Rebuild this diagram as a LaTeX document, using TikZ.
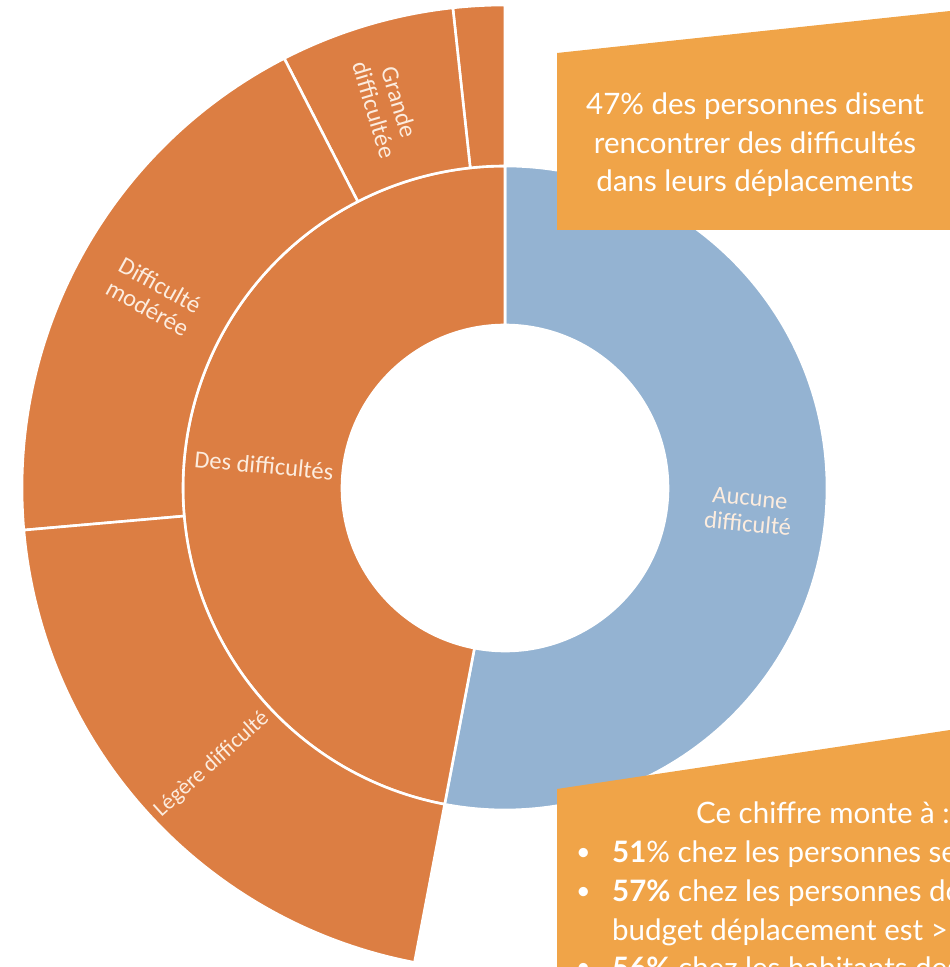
\documentclass[tikz,border=0pt]{standalone}
\usepackage{fontspec}
\setmainfont{Carlito}
\newfontfamily\boxfont{Lato}
\definecolor{chartorange}{RGB}{220,126,67}
\definecolor{chartblue}{RGB}{148,179,210}
\definecolor{boxorange}{RGB}{240,164,72}
\definecolor{labelcream}{RGB}{252,236,222}
\newcommand{\ringpart}[5]{%
  \fill[#1, draw=white, line width=2.6pt, line join=round]
    (#2:#4) arc[start angle=#2, end angle=#3, radius=#4]
    -- (#3:#5) arc[start angle=#3, end angle=#2, radius=#5] -- cycle;}
\tikzset{
  chartlabel/.style={text=labelcream, font=\fontsize{24.5}{26}\selectfont, align=center, inner sep=0pt},
  boxtext/.style={text=white, font=\boxfont\fontsize{29.5}{38}\selectfont, inner sep=0pt},
  bulletmark/.style={text=white, font=\boxfont\fontsize{25}{30}\selectfont, inner sep=0pt},
}
\begin{document}
\begin{tikzpicture}[x=1pt,y=1pt]
\useasboundingbox (0,0) rectangle (950,967);
\clip (0,0) rectangle (950,967);
\begin{scope}[shift={(505,479)}]
  % inner ring
  \ringpart{chartblue}{-100.8}{90}{163}{322}
  \ringpart{chartorange}{90}{259.2}{163}{322}
  % outer ring
  \ringpart{chartorange}{90}{96.2}{322}{483}
  \ringpart{chartorange}{96.2}{117.2}{322}{483}
  \ringpart{chartorange}{117.2}{185}{322}{483}
  \ringpart{chartorange}{185}{259.2}{322}{483}
  % labels
  \node[chartlabel, rotate=-5.4] (des) at (174.6:242) {Des difficultés};
  \node[chartlabel, rotate=-5.4] (aucune) at (-5.4:245) {Aucune\\difficulté};
  \node[chartlabel, rotate=-73.3] (grande) at (107.2:400) {Grande\\difficultée};
  \node[chartlabel, rotate=-28.9] (moderee) at (151.4:400) {Difficulté\\modérée};
  \node[chartlabel, rotate=42.1, font=\fontsize{22.5}{24}\selectfont] (legere) at (223.3:403) {Légère difficulté};
\end{scope}
% top box
\fill[boxorange] (557,914) -- (950,956) -- (950,737) -- (557,737) -- cycle;
\node[boxtext, anchor=base] (t1) at (755,852) {47\% des personnes disent};
\node[boxtext, anchor=base] (t2) at (755,813.5) {rencontrer des difficultés};
\node[boxtext, anchor=base] (t3) at (755,775) {dans leurs déplacements};
% bottom box
\fill[boxorange] (557,178) -- (950,237) -- (950,-5) -- (557,-5) -- cycle;
\node[boxtext, anchor=base west] (b0) at (696,143) {Ce chiffre monte à :};
\node[bulletmark, anchor=base west] (bl1) at (576,106) {•};
\node[boxtext, anchor=base west] (b1) at (612,104) {\textbf{51}\% chez les personnes seules};
\node[bulletmark, anchor=base west] (bl2) at (576,67) {•};
\node[boxtext, anchor=base west] (b2) at (612,65) {\textbf{57\%} chez les personnes dont le};
\node[boxtext, anchor=base west] (b3) at (612,27) {budget déplacement est > 10\%};
\node[bulletmark, anchor=base west] (bl4) at (576,-9) {•};
\node[boxtext, anchor=base west] (b4) at (612,-11) {\textbf{56\%} chez les habitants des};
\end{tikzpicture}
\end{document}
